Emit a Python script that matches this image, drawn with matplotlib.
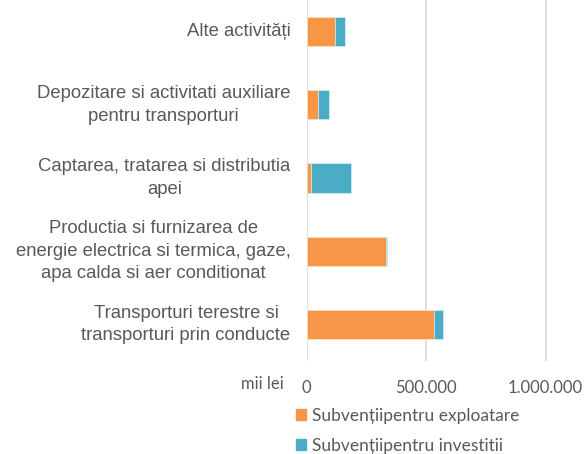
import matplotlib
matplotlib.use("Agg")
import matplotlib.pyplot as plt
from matplotlib.patches import Patch
from matplotlib.transforms import offset_copy

# subventii pe activitati, mii lei
categorii = [
    "Transporturi terestre si\ntransporturi prin conducte",
    "Productia si furnizarea de\nenergie electrica si termica, gaze,\napa calda si aer conditionat",
    "Captarea, tratarea si distributia\napei",
    "Depozitare si activitati auxiliare\npentru transporturi",
    "Alte activități",
]
exploatare = [534000, 332000, 18000, 50000, 120000]
investitii = [35000, 4000, 168000, 44000, 43000]
ticks = [0, 500000, 1000000]
tick_labels = ["0", "500.000", "1.000.000"]
serii = ["Subvențiipentru exploatare", "Subvențiipentru investitii"]

orange = "#F79646"
blue = "#4BACC6"
grey = "#595959"

fig = plt.figure(figsize=(5.85, 4.54), dpi=100)
ax = fig.add_axes([306.5 / 585, 1 - 361 / 454, 1 - 306.5 / 585, 366 / 454])

y = range(len(categorii))
ax.barh(y, exploatare, height=0.4, color=orange, edgecolor="#fde3cf", linewidth=0.5)
ax.barh(y, investitii, left=exploatare, height=0.4, color=blue, edgecolor="#d4eef4", linewidth=0.5)

ax.set_xlim(0, 1165000)
ax.set_ylim(-0.5, len(categorii) - 0.5)
ax.set_xticks(ticks)
ax.set_xticklabels(tick_labels, fontfamily="Lato", fontsize=12, color=grey)
ax.set_yticks(list(y))
ax.set_yticklabels([])
ax.tick_params(axis="y", length=0)
ax.tick_params(axis="x", length=0, pad=14)
ax.grid(axis="x", color="#d9d9d9", linewidth=1.2)
ax.set_axisbelow(True)
for s in ax.spines.values():
    s.set_visible(False)

# category labels: block right-aligned to the axis, lines centred in the block
renderer = fig.canvas.get_renderer()
line_step = 22.5 * 72 / 100   # points
gap = 16 * 72 / 100
for i, lab in enumerate(categorii):
    lines = lab.split("\n")
    n = len(lines)
    texts = []
    for k, line in enumerate(lines):
        t = ax.text(0, i, line, ha="center", va="center", fontfamily="Liberation Sans",
                    fontsize=13.3, color=grey, transform=ax.get_yaxis_transform())
        texts.append(t)
    w = max(t.get_window_extent(renderer).width for t in texts) * 72 / 100
    for k, t in enumerate(texts):
        t.set_transform(offset_copy(ax.get_yaxis_transform(), fig=fig, units="points",
                                    x=-(gap + w / 2), y=((n - 1) / 2 - k) * line_step))

fig.text(262 / 585, 1 - 384 / 454, "mii lei", fontfamily="Lato", fontsize=12,
         color=grey, ha="center", va="center")
fig.text(130 / 585, 1 + 4 / 454, "de activitate in anul 2015", fontfamily="Liberation Sans",
         fontsize=12, fontweight="bold", color=grey, ha="center", va="center")

handles = [Patch(color=orange), Patch(color=blue)]
fig.legend(handles, serii, loc="upper left", bbox_to_anchor=(296 / 585, 1 - 408 / 454),
           frameon=False, prop={"family": "Lato", "size": 12.5}, labelcolor=grey,
           handlelength=0.6, handleheight=0.6, handletextpad=0.3, labelspacing=0.8,
           borderaxespad=0, borderpad=0)

fig.savefig("out.png", dpi=100)
